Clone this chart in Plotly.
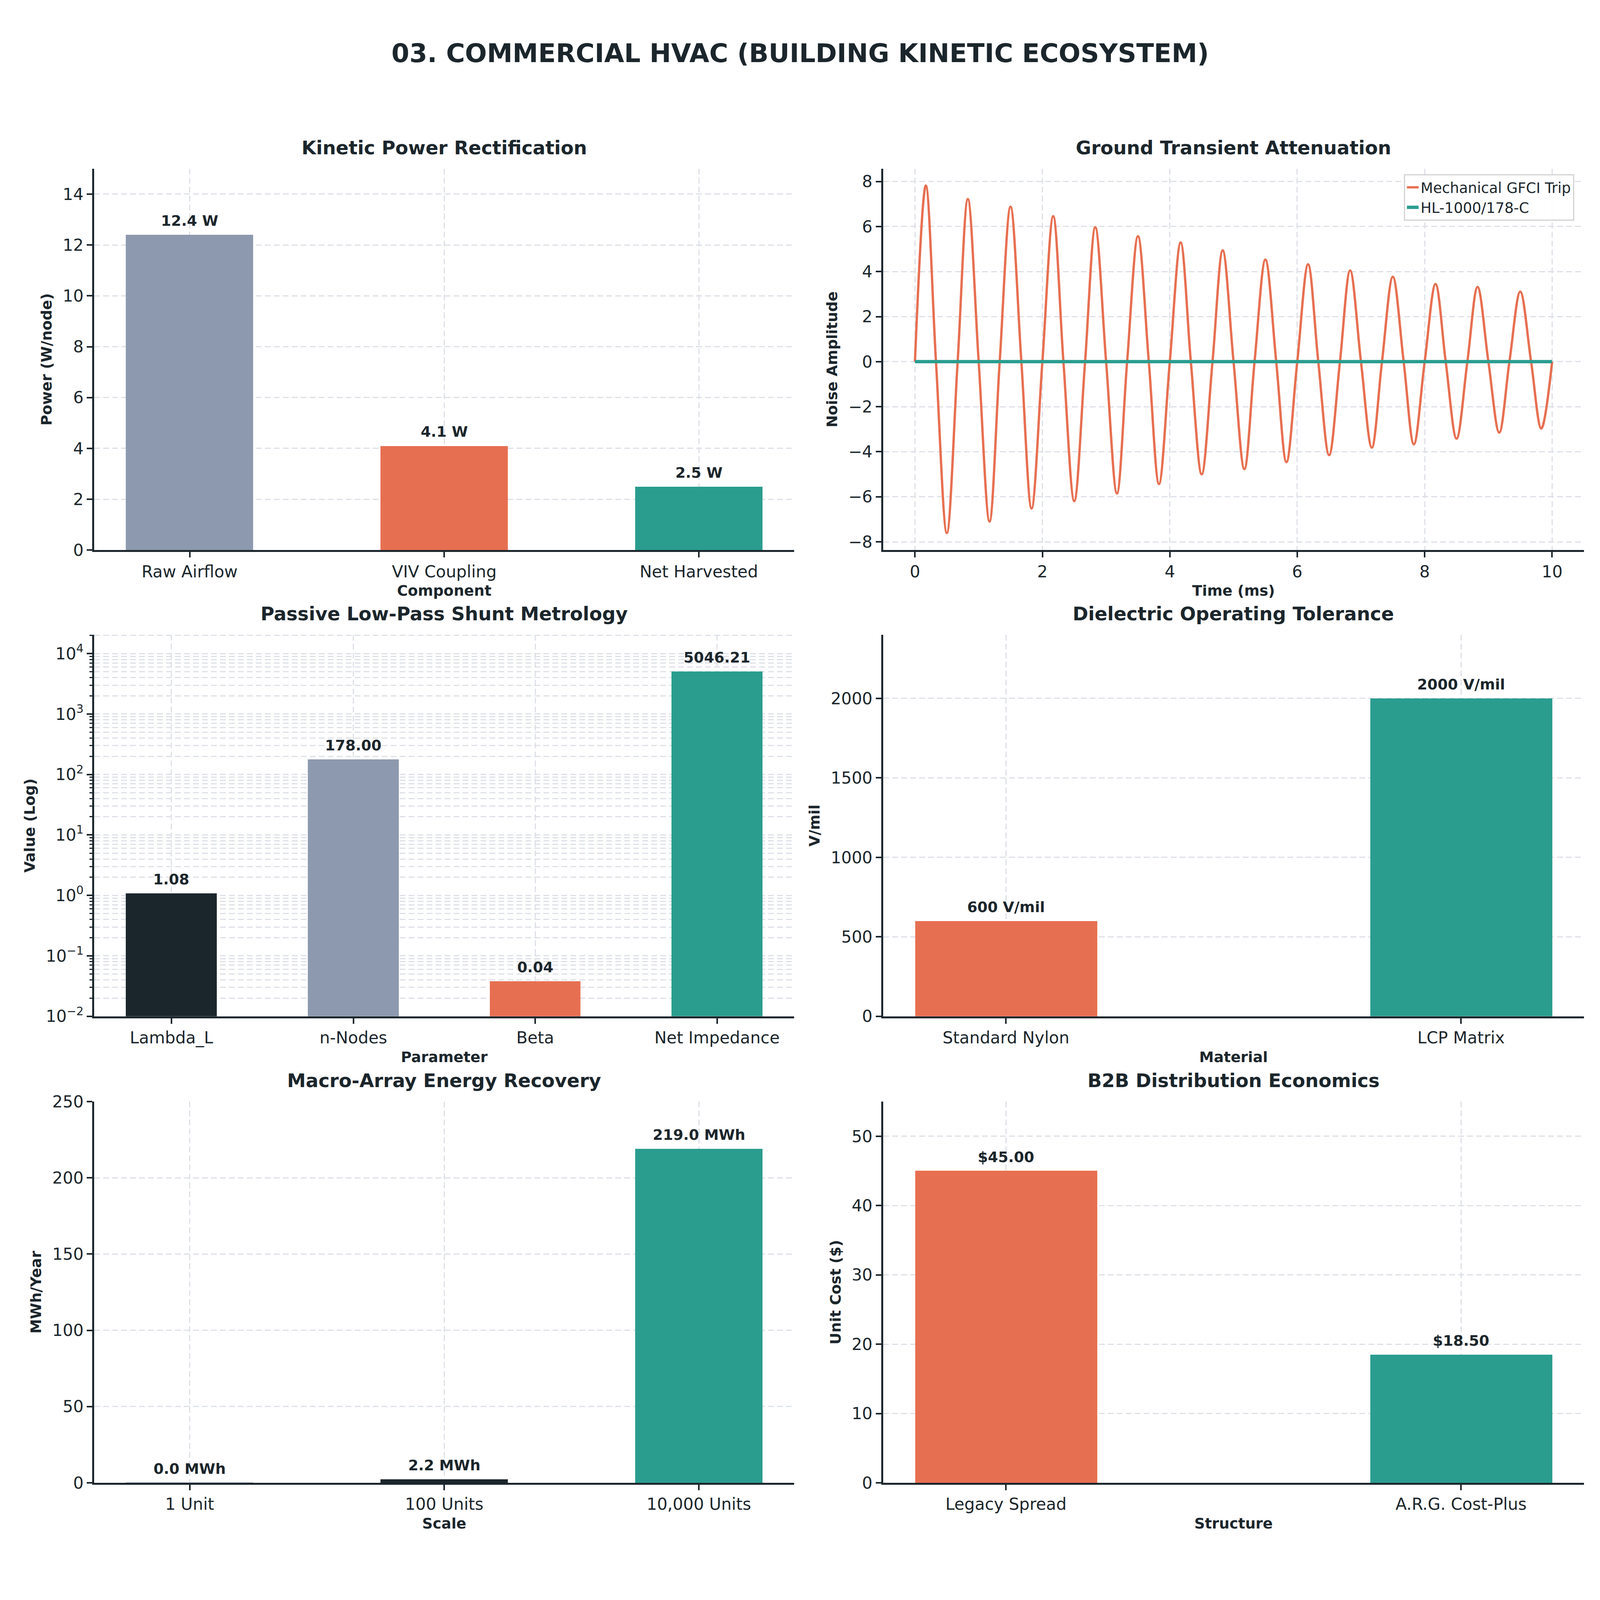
import numpy as np
import plotly.graph_objects as go

# colours used throughout the dashboard
SLATE = "#8D99AE"
CORAL = "#E76F51"
TEAL = "#2A9D8F"
INK = "#1B262C"
GRID = "#DDE0E7"
FONT = "DejaVu Sans"

# reference canvas the layout fractions are worked out on
W, H = 4200, 4800

# ---- data ----
power_components = ["Raw Airflow", "VIV Coupling", "Net Harvested"]
power_watts = [12.4, 4.1, 2.5]

transient_time_ms = [0.00, 0.17, 0.33, 0.50, 0.67, 0.83, 1.00, 1.17, 1.33, 1.50,
                     1.67, 1.83, 2.00, 2.17, 2.33, 2.50, 2.67, 2.83, 3.00, 3.17,
                     3.33, 3.50, 3.67, 3.83, 4.00, 4.17, 4.33, 4.50, 4.67, 4.83,
                     5.00, 5.17, 5.33, 5.50, 5.67, 5.83, 6.00, 6.17, 6.33, 6.50,
                     6.67, 6.83, 7.00, 7.17, 7.33, 7.50, 7.67, 7.83, 8.00, 8.17,
                     8.33, 8.50, 8.67, 8.83, 9.00, 9.17, 9.33, 9.50, 9.67, 9.83,
                     10.00]
gfci_trip_noise = [0.0, 7.82, 0.0, -7.61, 0.0, 7.22, 0.0, -7.10, 0.0, 6.88,
                   0.0, -6.52, 0.0, 6.46, 0.0, -6.19, 0.0, 5.97, 0.0, -5.85,
                   0.0, 5.57, 0.0, -5.43, 0.0, 5.29, 0.0, -5.00, 0.0, 4.94,
                   0.0, -4.77, 0.0, 4.53, 0.0, -4.46, 0.0, 4.32, 0.0, -4.15,
                   0.0, 4.05, 0.0, -3.82, 0.0, 3.77, 0.0, -3.67, 0.0, 3.45,
                   0.0, -3.42, 0.0, 3.32, 0.0, -3.15, 0.0, 3.11, 0.0, -2.97,
                   0.0]
hl1000_time_ms = [0.0, 10.0]
hl1000_noise = [0.0, 0.0]

shunt_params = ["Lambda_L", "n-Nodes", "Beta", "Net Impedance"]
shunt_values = [1.08, 178.0, 0.038, 5046.21]

dielectric_materials = ["Standard Nylon", "LCP Matrix"]
dielectric_vmil = [600, 2000]

array_scales = ["1 Unit", "100 Units", "10,000 Units"]
array_mwh_year = [0.0219, 2.19, 219.0]

b2b_structures = ["Legacy Spread", "A.R.G. Cost-Plus"]
b2b_unit_cost = [45.00, 18.50]

# ---- panel frames in reference pixels (left, right) / (top, bottom) ----
COLS = [(240, 2085), (2319, 4166)]
ROWS = [(476, 1639), (1897, 3060), (3320, 4482)]


def xdom(c):
    return [COLS[c][0] / W, COLS[c][1] / W]


def ydom(r):
    return [1 - ROWS[r][1] / H, 1 - ROWS[r][0] / H]


def axis_style(title, standoff, **kw):
    ax = dict(
        showline=True, linecolor=INK, linewidth=4.5, mirror=False,
        ticks="outside", ticklen=14, tickwidth=4, tickcolor=INK,
        tickfont=dict(family=FONT, size=42, color=INK),
        showgrid=True, gridcolor=GRID, gridwidth=3, griddash="15px,8px",
        zeroline=False, fixedrange=True,
        title=dict(text=title, standoff=standoff,
                   font=dict(family=FONT, size=37.5, color=INK, weight="bold")),
    )
    ax.update(kw)
    return ax


fig = go.Figure()


def add_bars(n, cats, vals, colors, width, labels, log=False):
    fig.add_trace(go.Bar(x=cats, y=vals, width=width, marker=dict(color=colors, line=dict(width=0)),
                         showlegend=False, xaxis=f"x{n}", yaxis=f"y{n}", hoverinfo="x+y"))
    for c, v, t in zip(cats, vals, labels):
        fig.add_annotation(x=c, y=np.log10(v) if log else v, xref=f"x{n}", yref=f"y{n}",
                           text=t, showarrow=False, yanchor="bottom", yshift=12,
                           font=dict(family=FONT, size=37.5, color=INK, weight="bold"))


add_bars("", power_components, power_watts, [SLATE, CORAL, TEAL], 0.5,
         [f"{v:.1f} W" for v in power_watts])

fig.add_trace(go.Scatter(x=transient_time_ms, y=gfci_trip_noise, mode="lines", name="Mechanical GFCI Trip",
                         line=dict(color=CORAL, width=6, shape="spline", smoothing=1.0),
                         xaxis="x2", yaxis="y2"))
fig.add_trace(go.Scatter(x=hl1000_time_ms, y=hl1000_noise, mode="lines", name="HL-1000/178-C",
                         line=dict(color=TEAL, width=8.5), xaxis="x2", yaxis="y2"))

add_bars(3, shunt_params, shunt_values, [INK, SLATE, CORAL, TEAL], 0.5,
         [f"{v:.2f}" for v in shunt_values], log=True)
add_bars(4, dielectric_materials, dielectric_vmil, [CORAL, TEAL], 0.4,
         [f"{v} V/mil" for v in dielectric_vmil])
add_bars(5, array_scales, array_mwh_year, [SLATE, INK, TEAL], 0.5,
         [f"{v:.1f} MWh" for v in array_mwh_year])
add_bars(6, b2b_structures, b2b_unit_cost, [CORAL, TEAL], 0.4,
         [f"${v:.2f}" for v in b2b_unit_cost])

decades = list(range(-2, 5))
log_ticks = [10.0 ** e for e in decades]
log_text = [f"10<sup>{'−' if e < 0 else ''}{abs(e)}</sup>" for e in decades]
log_minor = [m * 10.0 ** e for e in decades for m in range(2, 10)]

XT, YT = 14, 18  # axis title standoffs
layout = dict(
    xaxis=axis_style("Component", XT, domain=xdom(0), anchor="y", range=[-0.375, 2.375]),
    yaxis=axis_style("Power (W/node)", YT, domain=ydom(0), anchor="x", range=[0, 15], dtick=2),
    xaxis2=axis_style("Time (ms)", XT, domain=xdom(1), anchor="y2", range=[-0.5, 10.5], dtick=2),
    yaxis2=axis_style("Noise Amplitude", YT, domain=ydom(0), anchor="x2", range=[-8.37, 8.57], dtick=2),
    xaxis3=axis_style("Parameter", XT, domain=xdom(0), anchor="y3", range=[-0.425, 3.425]),
    yaxis3=axis_style("Value (Log)", YT, domain=ydom(1), anchor="x3", type="log", range=[-2, 4.31],
                      tickmode="array", tickvals=log_ticks, ticktext=log_text,
                      minor=dict(tickmode="array", tickvals=log_minor, ticks="outside", ticklen=7,
                                 tickwidth=3, tickcolor=INK, showgrid=True, gridcolor=GRID,
                                 gridwidth=2.5, griddash="15px,8px")),
    xaxis4=axis_style("Material", XT, domain=xdom(1), anchor="y4", range=[-0.27, 1.27]),
    yaxis4=axis_style("V/mil", YT, domain=ydom(1), anchor="x4", range=[0, 2400], dtick=500, tickformat="d"),
    xaxis5=axis_style("Scale", XT, domain=xdom(0), anchor="y5", range=[-0.375, 2.375]),
    yaxis5=axis_style("MWh/Year", YT, domain=ydom(2), anchor="x5", range=[0, 250], dtick=50),
    xaxis6=axis_style("Structure", XT, domain=xdom(1), anchor="y6", range=[-0.27, 1.27]),
    yaxis6=axis_style("Unit Cost ($)", YT, domain=ydom(2), anchor="x6", range=[0, 55], dtick=10),
)
fig.update_layout(**layout)

subtitles = ["Kinetic Power Rectification", "Ground Transient Attenuation",
             "Passive Low-Pass Shunt Metrology", "Dielectric Operating Tolerance",
             "Macro-Array Energy Recovery", "B2B Distribution Economics"]
for i, t in enumerate(subtitles):
    r, c = divmod(i, 2)
    fig.add_annotation(x=sum(COLS[c]) / 2 / W, y=1 - (ROWS[r][0] - 64) / H, xref="paper", yref="paper",
                       text=t, showarrow=False, xanchor="center", yanchor="middle",
                       font=dict(family=FONT, size=48, color=INK, weight="bold"))

fig.add_annotation(x=0.5, y=1 - 125 / H, xref="paper", yref="paper",
                   text="03. COMMERCIAL HVAC (BUILDING KINETIC ECOSYSTEM)", showarrow=False,
                   xanchor="center", yanchor="middle",
                   font=dict(family=FONT, size=66, color=INK, weight="bold"))

# no fixed width/height: let the figure fill the browser window
fig.update_layout(
    autosize=True,
    margin=dict(l=0, r=0, t=0, b=0),
    paper_bgcolor="white", plot_bgcolor="white",
    font=dict(family=FONT, color=INK),
    showlegend=True,
    legend=dict(x=4140 / W, xanchor="right", y=1 - 493 / H, yanchor="top",
                bgcolor="rgba(255,255,255,0.85)", bordercolor="#D3D3D3", borderwidth=3,
                font=dict(family=FONT, size=37, color=INK), tracegroupgap=4),
    bargap=0,
)

fig.write_html("out.html")
